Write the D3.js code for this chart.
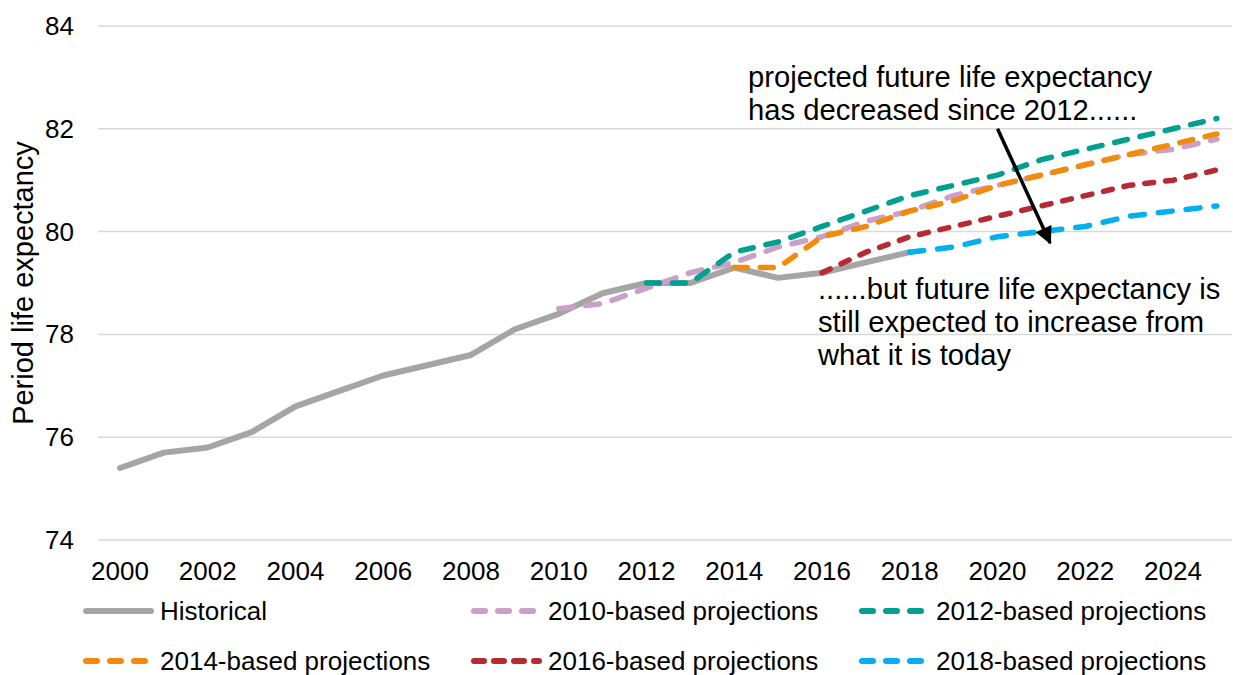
<!DOCTYPE html>
<html>
<head>
<meta charset="utf-8">
<script src="https://cdn.jsdelivr.net/npm/d3@7"></script>
<style>
	body { margin: 0; background: #fff; }
	text { font-family: Arial, "Liberation Sans", sans-serif; fill: #000; }
</style>
</head>
<body>
<div id="id_chart"></div>
<script>
// values
var years = d3.range(2000, 2026),
	tickYears = d3.range(2000, 2025, 2),
	yTicks = [74, 76, 78, 80, 82, 84];

var historical = [75.4, 75.7, 75.8, 76.1, 76.6, 76.9, 77.2, 77.4, 77.6, 78.1,
	78.4, 78.8, 79.0, 79.0, 79.3, 79.1, 79.2, 79.4, 79.6];                  // 2000-2018
var proj2010 = [78.5, 78.6, 78.9, 79.2, 79.4, 79.7, 79.9, 80.2, 80.4, 80.7,
	80.9, 81.1, 81.3, 81.5, 81.6, 81.8];                                    // 2010-2025
var proj2012 = [79.0, 79.0, 79.6, 79.8, 80.1, 80.4, 80.7, 80.9, 81.1, 81.4,
	81.6, 81.8, 82.0, 82.2];                                                // 2012-2025
var proj2014 = [79.3, 79.3, 79.9, 80.1, 80.4, 80.6, 80.9, 81.1, 81.3, 81.5,
	81.7, 81.9];                                                            // 2014-2025
var proj2016 = [79.2, 79.6, 79.9, 80.1, 80.3, 80.5, 80.7, 80.9, 81.0, 81.2]; // 2016-2025
var proj2018 = [79.6, 79.7, 79.9, 80.0, 80.1, 80.3, 80.4, 80.5];             // 2018-2025

var seriesNames = ["Historical", "2010-based projections", "2012-based projections",
	"2014-based projections", "2016-based projections", "2018-based projections"],
	seriesStart = [2000, 2010, 2012, 2014, 2016, 2018],
	seriesValues = [historical, proj2010, proj2012, proj2014, proj2016, proj2018];

var w = 1233,
	h = 675,
	fontSize = 26;

var x = d3.scaleLinear().domain([2000, 2024]).range([120, 1173]),
	y = d3.scaleLinear().domain([74, 84]).range([540, 26]);

var colors = ["#a5a5a5", "#c9a1c8", "#00a091", "#f28a0c", "#b72a31", "#00b0f0"],
	dashes = [null, "14 13", "13 13", "13 13", "9 12", "14 14"];

function seriesData(i) {
	return seriesValues[i].map(function(v, j) { return { year: seriesStart[i] + j, value: v }; });
}

var svg = d3.select("#id_chart")
	.append("svg")
	.attr("width", w)
	.attr("height", h);

// gridlines
svg.append("g")
	.selectAll("line")
	.data(yTicks)
	.enter().append("line")
	.attr("x1", 98)
	.attr("x2", 1232)
	.attr("y1", function(d) { return y(d); })
	.attr("y2", function(d) { return y(d); })
	.style("stroke", "#d9d9d9")
	.style("stroke-width", 1.5);

// y tick labels
svg.append("g")
	.selectAll("text")
	.data(yTicks)
	.enter().append("text")
	.attr("x", 74)
	.attr("y", function(d) { return y(d) + 9; })
	.attr("text-anchor", "end")
	.style("font-size", fontSize + "px")
	.text(function(d) { return d; });

// x tick labels
svg.append("g")
	.selectAll("text")
	.data(tickYears)
	.enter().append("text")
	.attr("x", function(d) { return x(d); })
	.attr("y", 580)
	.attr("text-anchor", "middle")
	.style("font-size", fontSize + "px")
	.text(function(d) { return d; });

// axis title
svg.append("text")
	.attr("transform", "translate(33,283) rotate(-90)")
	.attr("text-anchor", "middle")
	.style("font-size", "29px")
	.text("Period life expectancy");

var line = d3.line()
	.x(function(d) { return x(d.year); })
	.y(function(d) { return y(d.value); });

svg.append("g")
	.selectAll("path")
	.data(d3.range(seriesNames.length))
	.enter().append("path")
	.attr("d", function(i) { return line(seriesData(i)); })
	.style("fill", "none")
	.style("stroke", function(i) { return colors[i]; })
	.style("stroke-width", function(i) { return i == 0 ? 6 : 5.5; })
	.style("stroke-dasharray", function(i) { return dashes[i]; })
	.style("stroke-linecap", "round")
	.style("stroke-linejoin", "round");

// legend: two rows of three
var legX = [83, 471, 859],
	legY = [611, 661],
	legSym = [71, 71, 66, 65, 71, 66];

var leg = svg.append("g")
	.selectAll(".leg")
	.data(d3.range(seriesNames.length))
	.enter().append("g")
	.attr("class", "leg")
	.attr("transform", function(i) { return "translate(" + legX[i % 3] + "," + legY[Math.floor(i / 3)] + ")"; });

leg.append("line")
	.attr("x1", 3)
	.attr("x2", function(i) { return legSym[i] - 3; })
	.style("stroke", function(i) { return colors[i]; })
	.style("stroke-width", 6)
	.style("stroke-dasharray", function(i) { return i == 0 ? null : (i == 4 ? "10 10" : "11 13"); })
	.style("stroke-linecap", "round");

leg.append("text")
	.attr("x", 77)
	.attr("y", 8.5)
	.style("font-size", fontSize + "px")
	.text(function(i) { return seriesNames[i]; });

// annotations
var noteTop = ["projected future life expectancy", "has decreased since 2012......"],
	noteBottom = ["......but future life expectancy is", "still expected to increase from", "what it is today"];

svg.append("g")
	.selectAll("text")
	.data(noteTop)
	.enter().append("text")
	.attr("x", 748)
	.attr("y", function(d, i) { return 87 + i * 33; })
	.style("font-size", "29.2px")
	.text(function(d) { return d; });

svg.append("g")
	.selectAll("text")
	.data(noteBottom)
	.enter().append("text")
	.attr("x", 818)
	.attr("y", function(d, i) { return 299 + i * 33; })
	.style("font-size", "29.2px")
	.text(function(d) { return d; });

// arrow
var arrowFrom = [2020, 82.0],
	arrowTo = [2021.2, 79.78];

svg.append("defs").append("marker")
	.attr("id", "arrowhead")
	.attr("viewBox", "0 0 10 10")
	.attr("refX", 9)
	.attr("refY", 5)
	.attr("markerWidth", 6)
	.attr("markerHeight", 5)
	.attr("markerUnits", "strokeWidth")
	.attr("orient", "auto")
	.append("path")
	.attr("d", "M0,0L10,5L0,10Z")
	.style("fill", "#000");

svg.append("line")
	.attr("x1", x(arrowFrom[0]))
	.attr("y1", y(arrowFrom[1]))
	.attr("x2", x(arrowTo[0]))
	.attr("y2", y(arrowTo[1]))
	.style("stroke", "#000")
	.style("stroke-width", 3.5)
	.attr("marker-end", "url(#arrowhead)");
</script>
</body>
</html>
